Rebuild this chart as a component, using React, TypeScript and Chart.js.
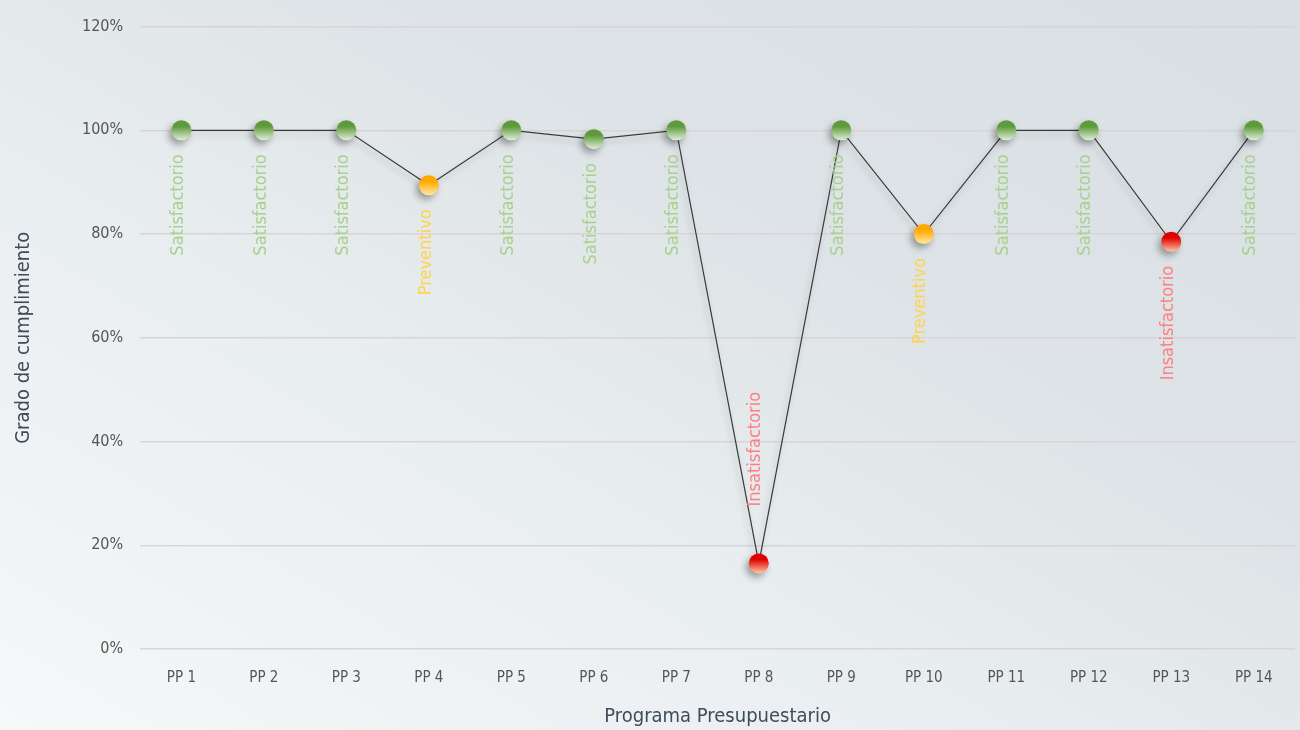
import React, { useEffect, useRef } from "react";
import { Chart, registerables } from "chart.js";

Chart.register(...registerables);

const categories = ["PP 1", "PP 2", "PP 3", "PP 4", "PP 5", "PP 6", "PP 7", "PP 8", "PP 9", "PP 10", "PP 11", "PP 12", "PP 13", "PP 14"];
const values = [100, 100, 100, 89.4, 100, 98.3, 100, 16.5, 100, 80, 100, 100, 78.5, 100];
const statusLabels = ["Satisfactorio", "Satisfactorio", "Satisfactorio", "Preventivo", "Satisfactorio", "Satisfactorio", "Satisfactorio", "Insatisfactorio", "Satisfactorio", "Preventivo", "Satisfactorio", "Satisfactorio", "Insatisfactorio", "Satisfactorio"];
const yTicks = [0, 20, 40, 60, 80, 100, 120];

const FONT = "'Liberation Sans Narrow', 'DejaVu Sans Condensed', 'Arial Narrow', sans-serif";

const statusStyle: Record<string, { text: string; top: string; bottom: string }> = {
  Satisfactorio: { text: "#a9d18e", top: "#5e9a3c", bottom: "#e2f0d9" },
  Preventivo: { text: "#ffd34d", top: "#ffa800", bottom: "#ffe9a8" },
  Insatisfactorio: { text: "#ff7f86", top: "#e00000", bottom: "#ffc9a6" },
};

const markerPlugin = {
  id: "markers",
  afterDatasetsDraw(chart: any) {
    const ctx = chart.ctx;
    const meta = chart.getDatasetMeta(0);
    meta.data.forEach((pt: any, i: number) => {
      const st = statusStyle[statusLabels[i]];
      const x = pt.x;
      const y = pt.y;
      const r = 10;
      ctx.save();
      ctx.shadowColor = "rgba(0,0,0,0.35)";
      ctx.shadowBlur = 7;
      ctx.shadowOffsetX = -3;
      ctx.shadowOffsetY = 4;
      const g = ctx.createLinearGradient(x, y - r, x, y + r);
      g.addColorStop(0, st.top);
      g.addColorStop(0.3, st.top);
      g.addColorStop(1, st.bottom);
      ctx.fillStyle = g;
      ctx.beginPath();
      ctx.arc(x, y, r, 0, Math.PI * 2);
      ctx.fill();
      ctx.restore();

      ctx.save();
      ctx.font = `18px ${FONT}`;
      ctx.fillStyle = st.text;
      ctx.textBaseline = "middle";
      const above = values[i] < 30;
      ctx.translate(x - 3, above ? y - 57 : y + 24);
      ctx.rotate(-Math.PI / 2);
      ctx.textAlign = above ? "left" : "right";
      ctx.fillText(statusLabels[i], 0, 0);
      ctx.restore();
    });
  },
};

const lineShadowPlugin = {
  id: "lineShadow",
  beforeDatasetsDraw(chart: any) {
    const ctx = chart.ctx;
    ctx.save();
    ctx.shadowColor = "rgba(0,0,0,0.25)";
    ctx.shadowBlur = 6;
    ctx.shadowOffsetX = -2;
    ctx.shadowOffsetY = 4;
  },
  afterDatasetsDraw(chart: any) {
    chart.ctx.restore();
  },
};

export default function App() {
  const ref = useRef<HTMLCanvasElement>(null);
  useEffect(() => {
    document.body.style.margin = "0";
    const chart = new Chart(ref.current!, {
      type: "line",
      data: {
        labels: categories,
        datasets: [
          {
            data: values,
            borderColor: "#3a3a3a",
            borderWidth: 1.2,
            pointRadius: 0,
            pointHoverRadius: 0,
            tension: 0,
          } as any,
        ],
      },
      options: {
        animation: false,
        responsive: false,
        events: [],
        layout: { padding: { top: 9, right: 5, left: 8, bottom: 1 } },
        plugins: { legend: { display: false }, tooltip: { enabled: false } },
        scales: {
          x: {
            offset: true,
            grid: { display: false },
            border: { display: false },
            ticks: { color: "#555", font: { family: FONT, size: 15 }, padding: 12 },
            title: { display: true, text: "Programa Presupuestario", color: "#3d4c57", font: { family: FONT, size: 20 }, padding: { top: 6, bottom: 0 } },
          },
          y: {
            min: 0,
            max: 120,
            afterBuildTicks: (axis: any) => {
              axis.ticks = yTicks.map((v) => ({ value: v }));
            },
            grid: { color: "rgba(216,210,212,0.95)", lineWidth: 1.5, drawTicks: false },
            border: { display: false },
            ticks: { color: "#555", font: { family: FONT, size: 16 }, padding: 17, callback: (v: any) => v + "%" },
            title: { display: true, text: "Grado de cumplimiento", color: "#3d4c57", font: { family: FONT, size: 20 }, padding: { bottom: 29 } },
          },
        },
      },
      plugins: [lineShadowPlugin, markerPlugin],
    });
    return () => chart.destroy();
  }, []);
  return (
    <div
      style={{
        width: 1300,
        height: 730,
        background: "linear-gradient(30deg, #f6f8f9 0%, #e8edef 40%, #dde3e6 65%, #d9e0e4 100%)",
      }}
    >
      <canvas ref={ref} width={1300} height={730} style={{ display: "block" }} />
    </div>
  );
}
